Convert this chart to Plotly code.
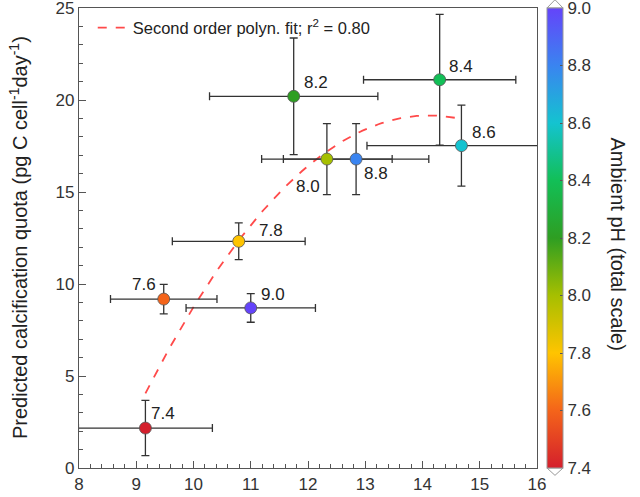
import numpy as np
import plotly.graph_objects as go

# data
ph = [7.4, 7.6, 7.8, 8.0, 8.2, 8.4, 8.6, 8.8, 9.0]
ph_labels = ["7.4", "7.6", "7.8", "8.0", "8.2", "8.4", "8.6", "8.8", "9.0"]
x_val = [9.16, 9.48, 10.79, 12.33, 11.75, 14.30, 14.68, 12.84, 11.00]
x_err = [1.17, 0.93, 1.16, 1.14, 1.47, 1.33, 1.65, 1.27, 1.13]
y_val = [2.17, 9.18, 12.32, 16.79, 20.20, 21.10, 17.52, 16.79, 8.70]
y_err = [1.50, 0.80, 1.00, 1.93, 3.17, 3.55, 2.20, 1.93, 0.78]
x_err_plus = [1.17, 0.93, 1.16, 1.14, 1.47, 1.33, 2.00, 1.27, 1.13]

label_dx = [18, -20, 32, -19, 22, 21, 23, 20, 22]
label_dy = [15, 15, 11, -27, 14, 13, 13, -14, 13]

cb_ticks = [7.4, 7.6, 7.8, 8.0, 8.2, 8.4, 8.6, 8.8, 9.0]
cb_colors = ["#d41f2c", "#f4641a", "#ffc400", "#a6bf00", "#2e9e22",
             "#12bf57", "#14c3d0", "#3a84f0", "#6444fa"]

# second order polynomial fit through the points
coef = np.polyfit(x_val, y_val, 2)
xf = np.linspace(min(x_val), max(x_val), 100)
yf = np.polyval(coef, xf)

colorscale = [[min(1.0, max(0.0, round((t - 7.4) / 1.6, 4))), c] for t, c in zip(cb_ticks, cb_colors)]

FONT = "Liberation Sans, Arial"

fig = go.Figure()

fig.add_trace(go.Scatter(
    x=xf, y=yf, mode="lines",
    line=dict(color="#ff4a4a", width=1.8, dash="dash"),
    name="Second order polyn. fit; r<sup>2</sup> = 0.80",
))

fig.add_trace(go.Scatter(
    x=x_val, y=y_val, mode="markers",
    showlegend=False,
    error_x=dict(type="data", array=x_err_plus, arrayminus=x_err, color="#333333", thickness=1.3, width=4),
    error_y=dict(type="data", array=y_err, color="#333333", thickness=1.3, width=4),
    marker=dict(size=12, color=ph, cmin=7.4, cmax=9.0, colorscale=colorscale,
                line=dict(color="#555555", width=0.8),
                colorbar=dict(
                    x=1.022, xanchor="left", xpad=0, y=0.5, yanchor="middle", ypad=0, len=1.0,
                    thickness=16, outlinewidth=1, outlinecolor="#999999",
                    tickvals=cb_ticks, ticktext=[f"{t:.1f}" for t in cb_ticks],
                    ticks="inside", ticklen=3, tickcolor="#555555",
                    ticklabeloverflow="allow",
                    tickfont=dict(size=17, color="#333333", family=FONT),
                )),
))

for x, y, t, dx, dy in zip(x_val, y_val, ph_labels, label_dx, label_dy):
    fig.add_annotation(x=x, y=y, text=t, showarrow=False, xshift=dx, yshift=dy,
                       font=dict(size=17, color="#222222", family=FONT))

# colorbar end triangles
fig.add_shape(type="path", xref="paper", yref="paper",
              path="M 1.0218,1.0 L 1.0568,1.0 L 1.0393,1.018 Z",
              fillcolor="white", line=dict(color="#999999", width=1))
fig.add_shape(type="path", xref="paper", yref="paper",
              path="M 1.0218,0.0 L 1.0568,0.0 L 1.0393,-0.016 Z",
              fillcolor="white", line=dict(color="#999999", width=1))

fig.add_annotation(xref="paper", yref="paper", x=1.177, y=0.488, textangle=90,
                   xanchor="center", yanchor="middle",
                   text="Ambient pH (total scale)", showarrow=False,
                   font=dict(size=20, color="#222222", family=FONT))

fig.add_annotation(xref="paper", yref="paper", x=-0.133, y=0.5, textangle=-90,
                   xanchor="center", yanchor="middle",
                   text="Predicted calcification quota (pg C cell<sup>-1</sup>day<sup>-1</sup>)",
                   showarrow=False, font=dict(size=20, color="#222222", family=FONT))

axis_common = dict(showgrid=False, zeroline=False, showline=True, linecolor="#555555",
                   linewidth=1.2, mirror=True, ticks="inside", ticklen=7, tickcolor="#555555",
                   automargin=False, ticklabeloverflow="allow",
                   tickfont=dict(size=17, color="#333333", family=FONT))

fig.update_xaxes(range=[8, 16], dtick=1, minor=dict(dtick=0.2, ticks="inside", ticklen=4, tickcolor="#555555"),
                 **axis_common)
fig.update_yaxes(range=[0, 25], dtick=5, minor=dict(dtick=1, ticks="inside", ticklen=4, tickcolor="#555555"),
                 **axis_common)

fig.update_layout(
    width=640, height=497,
    margin=dict(l=79, r=103, t=8, b=29),
    plot_bgcolor="white", paper_bgcolor="white",
    legend=dict(x=0.03, y=0.995, xanchor="left", yanchor="top", bgcolor="rgba(0,0,0,0)",
                font=dict(size=16.5, color="#222222", family=FONT)),
)

fig.write_html("out.html")
